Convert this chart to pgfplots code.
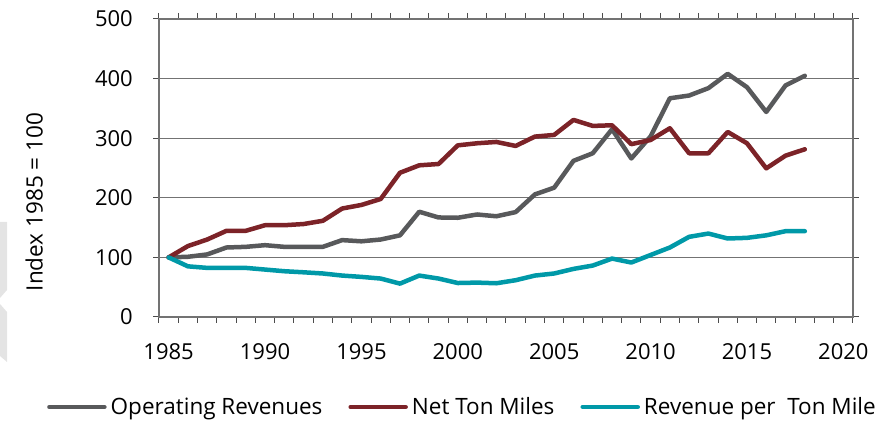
\documentclass[border=0pt]{standalone}
\usepackage{fontspec}
\setmainfont{Open Sans}
\usepackage{pgfplots}
\pgfplotsset{compat=1.18}
\definecolor{cgray}{RGB}{88,89,91}
\definecolor{cred}{RGB}{124,35,40}
\definecolor{cteal}{RGB}{0,153,168}
\definecolor{wm}{RGB}{228,228,228}
\begin{document}
\begin{tikzpicture}[x=1pt,y=1pt]
\path[use as bounding box] (0,0) rectangle (892,422);
\fill[wm] (0,200) -- (7,200) -- (7,132) -- (0,124) -- cycle;
\fill[wm] (0,118) -- (7,110) -- (7,60) -- (0,66) -- cycle;
\begin{axis}[
  at={(159pt,105pt)}, anchor=south west,
  scale only axis, width=694pt, height=298pt,
  xmin=1984.5, xmax=2020.5, ymin=0, ymax=500,
  xtick={1985,1990,...,2020},
  xticklabels={1985,1990,1995,2000,2005,2010,2015,2020},
  major x tick style={draw=none},
  minor xtick={1984.5,1985.5,...,2020.5},
  minor x tick style={draw=black!70, line width=1pt},
  minor tick length=6pt,
  ytick={0,100,...,500},
  yticklabels={0,100,200,300,400,500},
  major y tick style={draw=black!70, line width=1pt},
  major tick length=6pt,
  tick align=outside,
  ymajorgrids,
  grid style={draw=black!55, line width=0.9pt},
  axis line style={draw=black!55, line width=1.5pt},
  every tick label/.append style={font=\fontsize{22}{26}\selectfont, inner sep=0pt},
  xticklabel style={anchor=north, yshift=-20pt},
  yticklabel style={anchor=east, xshift=-20pt},
  ylabel={Index 1985 = 100},
  ylabel style={font=\fontsize{22.5}{26}\selectfont, at={(axis description cs:-0.18,0.386)}, anchor=center},
  legend columns=3,
  legend style={draw=none, at={(axis description cs:-0.1614,-0.302)}, anchor=west,
    font=\fontsize{22.5}{26}\selectfont, inner sep=0pt,
    nodes={inner sep=0pt, anchor=west},
    /tikz/every odd column/.style={column sep=4pt},
    /tikz/every even column/.style={column sep=26pt}},
  legend image code/.code={\draw[#1, line width=4.5pt] (0pt,0pt) -- (55pt,0pt);},
  every axis plot/.append style={line width=4.5pt, line join=round, line cap=round, mark=none},
  clip=false,
]
\addplot[cgray] coordinates {
(1985,100)(1986,101)(1987,105)(1988,116.6)(1989,117.7)(1990,120.5)(1991,117.7)(1992,117.7)(1993,117.7)(1994,129)(1995,127)(1996,130)(1997,137)(1998,176.6)(1999,167)(2000,166.5)(2001,172)(2002,169)(2003,176)(2004,205.7)(2005,217)(2006,262)(2007,274.7)(2008,315)(2009,266)(2010,303)(2011,367)(2012,371.6)(2013,384)(2014,408)(2015,385.6)(2016,344)(2017,388.5)(2018,404.7)};
\addlegendentry{Operating Revenues}
\addplot[cred] coordinates {
(1985,100)(1986,119)(1987,130)(1988,144.6)(1989,144.6)(1990,154)(1991,154)(1992,156)(1993,161.4)(1994,182)(1995,188)(1996,198)(1997,242)(1998,254.5)(1999,256.7)(2000,288)(2001,291.5)(2002,293.7)(2003,287)(2004,302.7)(2005,305.5)(2006,330.7)(2007,320.6)(2008,321.7)(2009,290)(2010,297)(2011,316.7)(2012,274.7)(2013,274.7)(2014,310.5)(2015,291.5)(2016,249.4)(2017,270.7)(2018,281.4)};
\addlegendentry{Net Ton Miles}
\addplot[cteal] coordinates {
(1985,100)(1986,85)(1987,82.4)(1988,82.4)(1989,82.4)(1990,79.6)(1991,76.8)(1992,75)(1993,73)(1994,69.5)(1995,67.3)(1996,64.5)(1997,56)(1998,69.5)(1999,64.5)(2000,57)(2001,57.7)(2002,56.6)(2003,61.7)(2004,69.5)(2005,73)(2006,80.7)(2007,86.3)(2008,98)(2009,91.4)(2010,104)(2011,116.6)(2012,134.5)(2013,140)(2014,131.7)(2015,132.8)(2016,137)(2017,144)(2018,144)};
\addlegendentry{Revenue per\ \ Ton Mile}
\end{axis}
\end{tikzpicture}
\end{document}
